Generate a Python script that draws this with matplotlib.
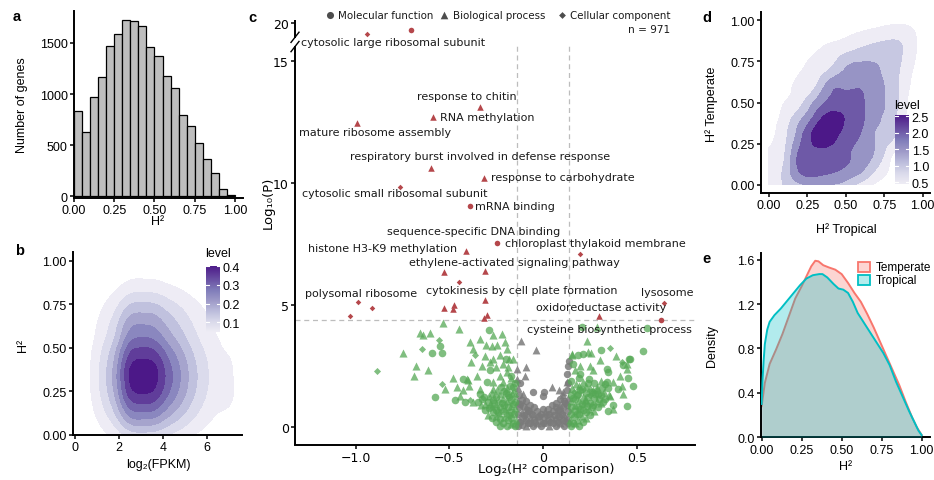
import numpy as np
import matplotlib
matplotlib.use('Agg')
import matplotlib.pyplot as plt
from matplotlib.tri import Triangulation, UniformTriRefiner
from matplotlib.colors import LinearSegmentedColormap
from matplotlib.patches import Rectangle
from matplotlib.transforms import blended_transform_factory

plt.rcParams['font.family'] = ['Liberation Sans', 'DejaVu Sans']
plt.rcParams['axes.unicode_minus'] = False

# ---------------- data ----------------
# a: number of genes per H2 bin (width 0.05, 0 -> 1)
hist_bin_width = 0.05
hist_counts = [830, 630, 970, 1170, 1470, 1590, 1725, 1720, 1670, 1460,
               1375, 1180, 1060, 800, 685, 520, 365, 225, 75, 10]

# b: 2D density, log2(FPKM) (columns) x H2 (rows)
b_x = [-0.5, 0.0, 0.5, 1.0, 1.5, 2.0, 2.5, 3.0, 3.5, 4.0, 4.5, 5.0, 5.5, 6.0, 6.5, 7.0, 7.5, 8.0]
b_y = [0.0, 0.1, 0.2, 0.3, 0.4, 0.5, 0.6, 0.7, 0.8, 0.9, 1.0]
b_density = [
    [0, 0, 0.009, 0.026, 0.048, 0.082, 0.121, 0.130, 0.127, 0.109, 0.087, 0.066, 0.047, 0.032, 0.021, 0.015, 0.005, 0],
    [0, 0, 0.018, 0.052, 0.096, 0.164, 0.242, 0.260, 0.255, 0.218, 0.174, 0.133, 0.094, 0.064, 0.043, 0.030, 0.010, 0],
    [0, 0, 0.026, 0.074, 0.137, 0.233, 0.344, 0.370, 0.363, 0.311, 0.248, 0.189, 0.133, 0.091, 0.066, 0.058, 0.025, 0],
    [0, 0, 0.030, 0.086, 0.159, 0.271, 0.400, 0.430, 0.421, 0.361, 0.288, 0.219, 0.155, 0.105, 0.075, 0.062, 0.030, 0],
    [0, 0, 0.029, 0.084, 0.155, 0.265, 0.391, 0.420, 0.412, 0.353, 0.281, 0.214, 0.151, 0.103, 0.072, 0.058, 0.025, 0],
    [0, 0, 0.025, 0.070, 0.130, 0.220, 0.326, 0.350, 0.343, 0.294, 0.235, 0.179, 0.126, 0.086, 0.058, 0.040, 0.014, 0],
    [0, 0, 0.019, 0.054, 0.100, 0.170, 0.251, 0.270, 0.265, 0.227, 0.181, 0.138, 0.097, 0.066, 0.045, 0.031, 0.011, 0],
    [0, 0, 0.014, 0.040, 0.074, 0.126, 0.186, 0.200, 0.196, 0.168, 0.134, 0.102, 0.072, 0.049, 0.033, 0.023, 0.008, 0],
    [0, 0, 0.008, 0.023, 0.043, 0.072, 0.107, 0.115, 0.113, 0.097, 0.077, 0.059, 0.041, 0.028, 0.019, 0.013, 0.005, 0],
    [0, 0, 0.003, 0.010, 0.018, 0.030, 0.045, 0.048, 0.047, 0.040, 0.032, 0.024, 0.017, 0.012, 0.008, 0.006, 0.002, 0],
    [0, 0, 0.001, 0.002, 0.004, 0.006, 0.009, 0.010, 0.010, 0.008, 0.007, 0.005, 0.004, 0.002, 0.002, 0.001, 0, 0],
]
b_levels = [0.05, 0.10, 0.15, 0.20, 0.25, 0.30, 0.35, 0.40]

# c: GO terms, (log2 H2 comparison, -log10 P, shape)  c=circle MF, t=triangle BP, d=diamond CC
red_pts = [
    (-0.941, 16.97, 'd'), (-0.706, 18.1, 'c'), (-0.336, 13.13, 't'), (-0.585, 12.72, 't'),
    (-0.994, 12.47, 't'), (-0.599, 10.62, 't'), (-0.313, 10.23, 't'), (-0.763, 9.83, 'd'),
    (-0.390, 9.08, 'c'), (-0.244, 7.56, 'c'), (-0.413, 7.21, 't'), (0.197, 7.08, 'd'),
    (-0.527, 6.34, 't'), (-0.309, 6.41, 't'), (-0.448, 5.95, 'd'), (-0.985, 5.13, 'd'),
    (-0.914, 4.88, 'd'), (-1.030, 4.54, 'd'), (-0.527, 4.90, 't'), (-0.475, 4.99, 't'),
    (-0.479, 4.86, 't'), (-0.309, 5.19, 't'), (-0.300, 4.61, 't'), (-0.315, 4.47, 't'),
    (0.646, 5.10, 'd'), (0.299, 4.55, 't'), (0.630, 4.37, 'c'),
]
green_pts = [
    (-0.532, 4.27, 't'), (-0.446, 4.03, 't'), (-0.656, 3.85, 't'), (-0.639, 3.76, 't'), (-0.603, 3.87, 't'),
    (-0.553, 3.55, 'd'), (-0.550, 3.32, 'c'), (-0.541, 3.05, 'c'), (-0.591, 3.05, 'c'), (-0.745, 3.02, 't'),
    (-0.647, 3.21, 'd'), (-0.888, 2.30, 'd'), (-0.687, 2.11, 't'), (-0.615, 2.32, 't'), (-0.678, 2.52, 't'),
    (-0.576, 1.22, 'c'), (-0.541, 1.77, 'd'), (-0.523, 1.56, 't'), (-0.482, 2.00, 't'), (-0.461, 1.63, 't'),
    (-0.470, 1.11, 'c'), (-0.425, 1.50, 't'), (-0.398, 1.91, 't'), (-0.386, 2.66, 't'), (-0.363, 2.94, 'd'),
    (-0.390, 3.48, 't'), (-0.372, 3.21, 't'), (-0.336, 3.62, 't'), (-0.286, 3.96, 'c'), (-0.304, 3.35, 't'),
    (-0.265, 3.76, 't'), (-0.247, 3.35, 't'), (-0.203, 3.48, 't'), (-0.194, 3.21, 't'), (-0.229, 2.94, 't'),
    (-0.327, 2.52, 't'), (-0.283, 2.32, 'c'), (-0.265, 2.80, 't'), (-0.354, 2.11, 't'), (-0.301, 1.84, 'c'),
    (-0.229, 2.11, 't'), (-0.185, 2.46, 't'), (-0.265, 1.56, 't'), (-0.336, 1.36, 'c'), (-0.372, 1.02, 't'),
    (-0.416, 1.02, 'c'), (-0.389, 1.12, 'd'), (-0.443, 1.29, 't'), (-0.393, 1.67, 't'), (-0.428, 1.97, 'c'),
    (-0.309, 2.93, 't'), (-0.283, 2.66, 't'), (-0.197, 2.77, 'c'), (-0.180, 2.80, 't'), (-0.160, 2.80, 't'),
    (-0.190, 2.25, 't'), (-0.220, 3.83, 't'), (-0.274, 3.32, 't'), (-0.345, 1.02, 'c'), (-0.265, 1.84, 't'),
    (-0.336, 1.56, 't'), (-0.407, 1.97, 't'), (-0.250, 2.45, 't'), (-0.215, 2.60, 't'), (-0.170, 2.10, 'c'),
    (0.153, 2.94, 't'), (0.189, 2.94, 'c'), (0.215, 2.98, 'c'), (0.242, 3.07, 't'), (0.233, 3.51, 't'),
    (0.358, 3.24, 'd'), (0.464, 2.80, 'c'), (0.532, 3.10, 'c'), (0.420, 2.66, 'd'), (0.446, 2.39, 't'),
    (0.455, 2.00, 'c'), (0.411, 2.11, 't'), (0.304, 2.73, 't'), (0.340, 2.39, 'c'), (0.375, 1.84, 't'),
    (0.340, 1.84, 'c'), (0.269, 2.32, 't'), (0.251, 2.52, 't'), (0.197, 2.18, 'c'), (0.171, 2.32, 't'),
    (0.286, 1.56, 't'), (0.402, 1.56, 'c'), (0.358, 1.29, 't'), (0.446, 0.88, 'c'), (0.375, 0.74, 't'),
    (0.322, 1.02, 'c'), (0.260, 1.43, 'c'), (0.224, 1.15, 't'), (0.553, 4.06, 'c'), (0.286, 4.10, 't'),
    (0.206, 4.10, 'c'), (0.162, 2.59, 'c'), (0.197, 2.52, 't'), (0.461, 2.77, 'c'), (0.425, 2.54, 'c'),
    (0.450, 2.57, 't'), (0.349, 2.25, 'c'), (0.420, 1.70, 't'), (0.425, 1.36, 't'), (0.372, 0.90, 'c'),
    (0.349, 0.67, 'c'), (0.157, 2.99, 't'), (0.254, 3.03, 't'), (0.390, 2.90, 't'), (0.310, 3.15, 'c'),
    (0.480, 1.70, 'c'),
    # dense part, left
    (-0.150, 0.05, 'c'), (-0.146, 0.28, 't'), (-0.152, 0.52, 'c'), (-0.148, 0.77, 't'), (-0.151, 1.02, 'c'),
    (-0.147, 1.27, 'd'), (-0.153, 1.52, 't'), (-0.149, 1.80, 'c'), (-0.171, 0.12, 't'), (-0.168, 0.36, 'c'),
    (-0.173, 0.61, 'c'), (-0.169, 0.86, 't'), (-0.172, 1.12, 'c'), (-0.166, 1.40, 't'), (-0.174, 1.70, 'c'),
    (-0.170, 2.00, 't'), (-0.191, 0.04, 'c'), (-0.188, 0.30, 'c'), (-0.193, 0.56, 't'), (-0.189, 0.81, 'c'),
    (-0.192, 1.06, 't'), (-0.187, 1.31, 'c'), (-0.194, 1.60, 't'), (-0.211, 0.16, 'c'), (-0.208, 0.41, 't'),
    (-0.213, 0.66, 'c'), (-0.209, 0.91, 'c'), (-0.212, 1.19, 't'), (-0.207, 1.49, 'c'), (-0.214, 1.86, 't'),
    (-0.231, 0.06, 'c'), (-0.228, 0.31, 'c'), (-0.233, 0.56, 't'), (-0.229, 0.81, 'c'), (-0.232, 1.06, 'd'),
    (-0.227, 1.35, 't'), (-0.251, 0.21, 'c'), (-0.248, 0.46, 't'), (-0.253, 0.71, 'c'), (-0.249, 0.96, 't'),
    (-0.252, 1.21, 'c'), (-0.247, 1.50, 't'), (-0.271, 0.36, 'c'), (-0.268, 0.61, 'c'), (-0.273, 0.86, 't'),
    (-0.269, 1.11, 'c'), (-0.272, 1.40, 't'), (-0.291, 0.51, 't'), (-0.288, 0.76, 'c'), (-0.293, 1.01, 'c'),
    (-0.289, 1.26, 't'), (-0.311, 0.71, 'c'), (-0.308, 0.96, 't'), (-0.313, 1.21, 'c'), (-0.331, 0.91, 't'),
    (-0.328, 1.16, 'c'), (-0.160, 0.18, 'c'), (-0.181, 0.48, 'c'), (-0.200, 0.72, 't'), (-0.159, 0.95, 'c'),
    (-0.221, 0.98, 'c'), (-0.180, 1.22, 'c'), (-0.240, 0.62, 'c'), (-0.160, 1.62, 'c'), (-0.261, 1.00, 'c'),
    (-0.199, 1.40, 'c'), (-0.281, 0.95, 't'), (-0.222, 1.62, 'c'),
    # dense part, right
    (0.150, 0.05, 'c'), (0.146, 0.30, 't'), (0.152, 0.55, 'c'), (0.148, 0.80, 'c'), (0.151, 1.05, 't'),
    (0.147, 1.30, 'c'), (0.153, 1.60, 't'), (0.149, 1.90, 'c'), (0.171, 0.16, 't'), (0.168, 0.40, 'c'),
    (0.173, 0.65, 'c'), (0.169, 0.90, 't'), (0.172, 1.15, 'c'), (0.166, 1.45, 'd'), (0.174, 1.75, 't'),
    (0.191, 0.05, 'c'), (0.188, 0.30, 't'), (0.193, 0.55, 'c'), (0.189, 0.80, 'c'), (0.192, 1.10, 't'),
    (0.187, 1.35, 'c'), (0.194, 1.70, 't'), (0.190, 2.00, 'c'), (0.211, 0.20, 'c'), (0.208, 0.45, 't'),
    (0.213, 0.70, 'c'), (0.209, 0.95, 'c'), (0.212, 1.25, 't'), (0.207, 1.55, 'c'), (0.214, 1.85, 't'),
    (0.231, 0.35, 't'), (0.228, 0.60, 'c'), (0.233, 0.85, 'c'), (0.229, 1.10, 't'), (0.232, 1.40, 'c'),
    (0.227, 1.70, 't'), (0.251, 0.50, 'c'), (0.248, 0.75, 't'), (0.253, 1.00, 'c'), (0.249, 1.30, 'd'),
    (0.252, 1.60, 't'), (0.247, 1.95, 'c'), (0.271, 0.65, 't'), (0.268, 0.90, 'c'), (0.273, 1.20, 'c'),
    (0.269, 1.50, 't'), (0.272, 1.80, 'c'), (0.291, 0.80, 'c'), (0.288, 1.05, 't'), (0.293, 1.35, 'c'),
    (0.289, 1.65, 't'), (0.311, 1.00, 't'), (0.308, 1.30, 'c'), (0.313, 1.60, 'c'), (0.309, 1.90, 't'),
    (0.331, 1.15, 'c'), (0.328, 1.45, 't'), (0.333, 1.75, 'c'), (0.351, 1.30, 't'), (0.348, 1.60, 'c'),
    (0.160, 0.18, 'c'), (0.181, 0.52, 'c'), (0.200, 0.75, 'c'), (0.161, 1.20, 'c'), (0.221, 1.00, 't'),
    (0.182, 1.30, 'c'), (0.240, 1.22, 'c'), (0.262, 0.80, 'c'), (0.280, 1.35, 'c'), (0.200, 1.50, 'c'),
    (0.300, 1.15, 'c'), (0.240, 1.80, 'c'),
]
gray_pts = [
    (-0.131, 0.05, 'c'), (-0.128, 0.30, 't'), (-0.133, 0.55, 'c'), (-0.129, 0.80, 'c'), (-0.132, 1.05, 't'),
    (-0.127, 1.30, 'c'), (-0.134, 1.60, 't'), (-0.111, 0.10, 'c'), (-0.108, 0.35, 'c'), (-0.113, 0.60, 't'),
    (-0.109, 0.85, 'c'), (-0.112, 1.10, 'c'), (-0.107, 1.35, 't'), (-0.091, 0.05, 't'), (-0.088, 0.30, 'c'),
    (-0.093, 0.55, 'c'), (-0.089, 0.80, 't'), (-0.092, 1.05, 'c'), (-0.071, 0.15, 'c'), (-0.068, 0.40, 't'),
    (-0.073, 0.65, 'c'), (-0.069, 0.90, 'c'), (-0.051, 0.05, 'c'), (-0.048, 0.30, 'c'), (-0.053, 0.55, 't'),
    (-0.049, 0.80, 'c'), (-0.031, 0.15, 't'), (-0.028, 0.40, 'c'), (-0.033, 0.65, 'c'), (-0.011, 0.05, 'c'),
    (-0.008, 0.30, 't'), (-0.013, 0.55, 'c'), (0.011, 0.15, 'c'), (0.008, 0.40, 'c'), (0.013, 0.65, 't'),
    (0.031, 0.05, 't'), (0.028, 0.30, 'c'), (0.033, 0.55, 'c'), (0.029, 0.75, 'c'), (0.051, 0.15, 'c'),
    (0.048, 0.40, 't'), (0.053, 0.65, 'c'), (0.049, 0.90, 'c'), (0.071, 0.05, 'c'), (0.068, 0.30, 'c'),
    (0.073, 0.55, 't'), (0.069, 0.80, 'c'), (0.072, 1.00, 'c'), (0.091, 0.15, 't'), (0.088, 0.40, 'c'),
    (0.093, 0.65, 'c'), (0.089, 0.90, 't'), (0.092, 1.15, 'c'), (0.111, 0.05, 'c'), (0.108, 0.30, 'c'),
    (0.113, 0.55, 't'), (0.109, 0.80, 'c'), (0.112, 1.05, 'c'), (0.107, 1.30, 't'), (0.131, 0.15, 'c'),
    (0.128, 0.40, 't'), (0.133, 0.65, 'c'), (0.129, 0.90, 'c'), (0.132, 1.20, 't'), (0.127, 1.50, 'c'),
    (0.134, 1.80, 'c'), (-0.120, 0.22, 'c'), (-0.100, 0.48, 'c'), (-0.080, 0.18, 'c'), (-0.060, 0.52, 'c'),
    (-0.040, 0.20, 'c'), (-0.020, 0.45, 'c'), (0.000, 0.18, 'c'), (0.020, 0.50, 'c'), (0.040, 0.22, 'c'),
    (0.060, 0.48, 'c'), (0.080, 0.20, 'c'), (0.100, 0.55, 'c'), (0.120, 0.25, 'c'), (-0.120, 0.95, 'c'),
    (0.120, 1.00, 'c'), (-0.080, 0.70, 'c'), (0.080, 0.70, 'c'), (0.000, 0.75, 'c'),
    (-0.119, 3.51, 't'), (-0.037, 3.14, 't'), (-0.137, 2.39, 't'), (-0.092, 2.46, 't'), (-0.096, 2.09, 't'),
    (0.005, 1.45, 'c'), (-0.052, 1.43, 'c'), (0.140, 2.70, 'c'), (0.135, 2.52, 'c'), (0.126, 2.18, 'c'),
    (0.126, 1.84, 't'), (0.046, 1.63, 't'), (0.087, 1.53, 't'), (0.108, 1.43, 't'), (0.000, 1.29, 'c'),
    (-0.138, 1.95, 't'), (-0.122, 1.80, 'c'),
]
go_labels = [
    ('cytosolic large ribosomal subunit', -0.799, 15.79),
    ('response to chitin', -0.407, 13.59),
    ('RNA methylation', -0.297, 12.74),
    ('mature ribosome assembly', -0.895, 12.09),
    ('respiratory burst involved in defense response', -0.336, 11.12),
    ('response to carbohydrate', 0.108, 10.25),
    ('cytosolic small ribosomal subunit', -0.790, 9.62),
    ('mRNA binding', -0.151, 9.08),
    ('sequence-specific DNA binding', -0.372, 8.05),
    ('chloroplast thylakoid membrane', 0.277, 7.53),
    ('histone H3-K9 methylation', -0.855, 7.35),
    ('ethylene-activated signaling pathway', -0.153, 6.78),
    ('polysomal ribosome', -0.972, 5.50),
    ('cytokinesis by cell plate formation', -0.111, 5.64),
    ('lysosome', 0.663, 5.54),
    ('oxidoreductase activity', 0.309, 4.93),
    ('cysteine biosynthetic process', 0.354, 4.03),
]
fc_cut = 0.14
p_cut = 4.37
n_terms = 971

# d: 2D density, H2 Tropical (columns) x H2 Temperate (rows)
d_x = [0.0, 0.1, 0.2, 0.3, 0.4, 0.5, 0.6, 0.7, 0.8, 0.9, 1.0]
d_y = [0.0, 0.1, 0.2, 0.3, 0.4, 0.5, 0.6, 0.7, 0.8, 0.9, 1.0]
d_density = [
    [0.75, 1.05, 1.40, 1.55, 1.50, 1.30, 0.80, 0.40, 0.25, 0.20, 0.20],
    [0.70, 1.10, 2.10, 2.25, 2.15, 1.95, 1.62, 1.00, 0.40, 0.22, 0.20],
    [0.55, 0.95, 2.10, 2.40, 2.40, 2.15, 1.75, 1.40, 0.60, 0.25, 0.20],
    [0.35, 0.85, 1.80, 2.65, 2.70, 2.30, 1.95, 1.45, 1.15, 0.35, 0.20],
    [0.25, 0.70, 1.40, 2.20, 2.75, 2.45, 2.10, 1.60, 1.20, 0.40, 0.20],
    [0.20, 0.50, 0.85, 1.60, 2.15, 2.30, 2.10, 1.65, 1.30, 0.50, 0.20],
    [0.20, 0.30, 0.65, 0.95, 1.80, 1.90, 1.95, 1.65, 1.30, 0.60, 0.20],
    [0.20, 0.20, 0.45, 0.70, 1.05, 1.55, 1.70, 1.55, 1.25, 0.70, 0.20],
    [0.20, 0.20, 0.30, 0.50, 0.75, 1.00, 1.20, 1.30, 1.20, 0.85, 0.20],
    [0.20, 0.20, 0.22, 0.26, 0.35, 0.48, 0.65, 0.80, 0.92, 0.80, 0.20],
    [0.20, 0.20, 0.20, 0.20, 0.20, 0.20, 0.20, 0.25, 0.32, 0.32, 0.20],
]
d_levels = [0.5, 1.0, 1.5, 2.0, 2.5]

# e: H2 density curves
temp_x = [0.0, 0.02, 0.05, 0.09, 0.13, 0.17, 0.21, 0.25, 0.29, 0.31, 0.335, 0.355, 0.385, 0.42, 0.46,
          0.50, 0.54, 0.58, 0.62, 0.66, 0.70, 0.74, 0.78, 0.82, 0.86, 0.90, 0.94, 0.97, 1.0]
temp_y = [0.28, 0.49, 0.66, 0.79, 0.93, 1.09, 1.25, 1.36, 1.48, 1.54, 1.59, 1.585, 1.55, 1.53, 1.51,
          1.47, 1.39, 1.30, 1.22, 1.11, 0.99, 0.86, 0.73, 0.60, 0.47, 0.32, 0.18, 0.09, 0.02]
trop_x = [0.0, 0.005, 0.012, 0.02, 0.035, 0.05, 0.08, 0.12, 0.16, 0.20, 0.24, 0.28, 0.32, 0.36, 0.38,
          0.41, 0.45, 0.48, 0.51, 0.54, 0.57, 0.60, 0.64, 0.68, 0.72, 0.76, 0.80, 0.84, 0.88, 0.92,
          0.96, 0.98, 1.0]
trop_y = [0.30, 0.50, 0.68, 0.84, 0.97, 1.04, 1.10, 1.16, 1.23, 1.30, 1.37, 1.43, 1.46, 1.47, 1.47,
          1.44, 1.38, 1.34, 1.33, 1.30, 1.22, 1.12, 1.03, 0.94, 0.85, 0.76, 0.65, 0.50, 0.37, 0.24,
          0.12, 0.06, 0.02]

# ---------------- drawing ----------------
W, H = 934, 481
fig = plt.figure(figsize=(W / 100, H / 100), dpi=100)
FS = 9
CFONT = 'DejaVu Sans'


def px_axes(l, t, r, b):
    return fig.add_axes([l / W, 1 - b / H, (r - l) / W, (b - t) / H])


def ftext(x, y, s, **kw):
    kw.setdefault('ha', 'center')
    kw.setdefault('va', 'center')
    kw.setdefault('fontsize', FS)
    fig.text(x / W, 1 - y / H, s, **kw)


def style(ax):
    for side in ('top', 'right'):
        ax.spines[side].set_visible(False)
    for side in ('left', 'bottom'):
        ax.spines[side].set_linewidth(1.4)
    ax.tick_params(width=1.1, length=3, labelsize=FS, pad=1.5, colors='black')


def trunc_cmap():
    return LinearSegmentedColormap.from_list('pur', plt.cm.Purples(np.linspace(0.13, 0.92, 64)))


def density_panel(ax, gx, gy, grid, levels):
    sx = gx[1] - gx[0]
    sy = gy[1] - gy[0]
    X, Y = np.meshgrid(np.array(gx) / sx, np.array(gy) / sy)
    tri = Triangulation(X.ravel(), Y.ravel())
    tri_r, z_r = UniformTriRefiner(tri).refine_field(np.array(grid, float).ravel(), subdiv=3)
    tri_s = Triangulation(tri_r.x * sx, tri_r.y * sy, tri_r.triangles)
    cmap = trunc_cmap()
    lo, hi = levels[0], levels[-1]
    cols = [cmap((lv - lo) / (hi - lo)) for lv in levels]
    ax.tricontourf(tri_s, z_r, levels=list(levels) + [1e6], colors=cols, zorder=1)


def colorbar(l, t, r, b, lo, hi, ticks, title, title_xy):
    cax = px_axes(l, t, r, b)
    cax.imshow(np.linspace(lo, hi, 256)[:, None], cmap=trunc_cmap(), aspect='auto', origin='lower',
               extent=[0, 1, lo, hi], vmin=lo, vmax=hi)
    cax.set_xlim(0, 1)
    cax.set_ylim(lo, hi)
    for s in cax.spines.values():
        s.set_visible(False)
    cax.set_xticks([])
    cax.yaxis.tick_right()
    cax.set_yticks(ticks, [f'{v:.1f}' for v in ticks])
    cax.tick_params(axis='y', length=0, labelsize=FS, pad=2)
    for tk in ticks:
        cax.plot([0, 0.2], [tk, tk], color='white', lw=0.8)
        cax.plot([0.8, 1], [tk, tk], color='white', lw=0.8)
    ftext(title_xy[0], title_xy[1], title, ha='left')


# ---- a ----
ax = px_axes(74, 12, 243, 199)
lefts = np.arange(len(hist_counts)) * hist_bin_width
ax.bar(lefts, hist_counts, width=hist_bin_width, align='edge', color='#BEBEBE',
       edgecolor='black', linewidth=0.9, zorder=2)
ax.set_xlim(0, 1.05)
ax.set_ylim(-17, 1813)
style(ax)
ax.set_xticks([0, 0.25, 0.5, 0.75, 1.0], ['0.00', '0.25', '0.50', '0.75', '1.00'])
ax.set_yticks([0, 500, 1000, 1500])
ftext(22, 105, 'Number of genes', rotation=90)
ftext(158, 222, 'H²')
ftext(13, 17, 'a', ha='left', fontweight='bold', fontsize=10.5)

# ---- b ----
ax = px_axes(73, 253, 242, 436)
density_panel(ax, b_x, b_y, b_density, b_levels)
ax.set_xlim(-0.09, 7.6)
ax.set_ylim(0, 1.05)
style(ax)
ax.set_xticks([0, 2, 4, 6])
ax.set_yticks([0, 0.25, 0.5, 0.75, 1.0], ['0.00', '0.25', '0.50', '0.75', '1.00'])
colorbar(206, 266.7, 220, 333.3, 0.047, 0.403, [0.1, 0.2, 0.3, 0.4], 'level', (205, 254))
ftext(23, 345, 'H²', rotation=90)
ftext(158, 465, 'log₂(FPKM)')
ftext(15, 251, 'b', ha='left', fontweight='bold', fontsize=10.5)


# ---- c ----
def squash(v):
    return v if v <= 16 else 16 + (v - 16) * 0.145


ax = px_axes(295, 21, 695, 446)
y_lo, y_hi = -0.74, 16.7
ax.set_xlim(-1.323, 0.811)
ax.set_ylim(y_lo, y_hi)
dash = dict(color='#BDBDBD', lw=0.9, ls=(0, (4, 3)), zorder=1)
for xv in (-fc_cut, fc_cut):
    ax.plot([xv, xv], [y_lo, 15.76], **dash)
ax.axhline(p_cut, **dash)

marker_of = {'c': 'o', 't': '^', 'd': 'D'}


def draw_points(pts, color, sizes, alpha, z):
    for key, mk in marker_of.items():
        sel = [p for p in pts if p[2] == key]
        if sel:
            ax.scatter([p[0] for p in sel], [squash(p[1]) for p in sel], s=sizes[key], marker=mk,
                       color=color, alpha=alpha, linewidths=0, zorder=z)


draw_points(gray_pts, '#7A7A7A', {'c': 28, 't': 32, 'd': 12}, 0.85, 2)
draw_points(green_pts, '#55A855', {'c': 30, 't': 34, 'd': 13}, 0.75, 3)
draw_points(red_pts, '#B5474B', {'c': 16, 't': 22, 'd': 8}, 1.0, 4)
for txt, xv, yv in go_labels:
    ax.text(xv, squash(yv), txt, ha='center', va='center', fontsize=8, family=CFONT, color='#1A1A1A', zorder=5)

ax.spines['top'].set_visible(False)
ax.spines['right'].set_visible(False)
ax.spines['left'].set_visible(False)
ax.spines['bottom'].set_linewidth(1.4)
tr = blended_transform_factory(ax.transAxes, ax.transData)
ax.plot([0, 0], [y_lo, 15.62], transform=tr, color='black', lw=1.4, clip_on=False, solid_capstyle='butt')
ax.plot([0, 0], [15.98, y_hi], transform=tr, color='black', lw=1.4, clip_on=False, solid_capstyle='butt')
ax.plot([-0.01, 0.01], [15.40, 15.82], transform=tr, color='black', lw=1.0, clip_on=False)
ax.plot([-0.01, 0.01], [15.78, 16.20], transform=tr, color='black', lw=1.0, clip_on=False)
ax.tick_params(width=1.1, length=3, labelsize=FS, pad=1.5, colors='black')
ax.set_xticks([-1.0, -0.5, 0, 0.5], ['\u22121.0', '\u22120.5', '0', '0.5'], fontfamily=CFONT)
ax.set_yticks([0, 5, 10, 15, squash(20)], ['0', '5', '10', '15', '20'], fontfamily=CFONT)

# legend at top
leg_y = 1.0117
for mx, mk, tx, lab in ((0.0875, 'o', 0.108, 'Molecular function'),
                        (0.3725, '^', 0.394, 'Biological process'),
                        (0.667, 'D', 0.6875, 'Cellular component')):
    ax.scatter([mx], [leg_y], marker=mk, s={'o': 26, '^': 30, 'D': 12}[mk], color='#4D4D4D',
               transform=ax.transAxes, clip_on=False, linewidths=0)
    ax.text(tx, leg_y, lab, transform=ax.transAxes, ha='left', va='center', fontsize=7.4,
            family=CFONT, color='#1A1A1A')
ax.text(0.9375, 0.978, f'n = {n_terms}', transform=ax.transAxes, ha='right', va='center',
        fontsize=7.6, family=CFONT, color='#1A1A1A')
ftext(268, 203, 'Log₁₀(P)', rotation=90, family=CFONT, fontsize=9.5)
ftext(546, 470, 'Log₂(H² comparison)', family=CFONT, fontsize=9.5)
ftext(248, 18, 'c', ha='left', fontweight='bold', fontsize=10.5)

# ---- d ----
ax = px_axes(761, 13, 930, 194)
density_panel(ax, d_x, d_y, d_density, d_levels)
ax.set_xlim(-0.052, 1.048)
ax.set_ylim(-0.05, 1.051)
style(ax)
ticks01 = [0, 0.25, 0.5, 0.75, 1.0]
lab01 = ['0.00', '0.25', '0.50', '0.75', '1.00']
ax.set_xticks(ticks01, lab01)
ax.set_yticks(ticks01, lab01)
colorbar(895, 115.5, 909, 185, 0.45, 2.555, [0.5, 1.0, 1.5, 2.0, 2.5], 'level', (894, 106))
ftext(712, 104, 'H² Temperate', rotation=90)
ftext(846, 230, 'H² Tropical')
ftext(702, 18, 'd', ha='left', fontweight='bold', fontsize=10.5)

# ---- e ----
ax = px_axes(761, 254, 930, 438.3)
red, cyan = '#F8766D', '#00BFC4'
ax.fill_between(temp_x, temp_y, 0, color=red, alpha=0.3, linewidth=0, zorder=1)
ax.plot(temp_x, temp_y, color=red, lw=1.4, zorder=2)
ax.fill_between(trop_x, trop_y, 0, color=cyan, alpha=0.3, linewidth=0, zorder=3)
ax.plot(trop_x, trop_y, color=cyan, lw=1.4, zorder=4)
ax.set_xlim(-0.004, 1.052)
ax.set_ylim(0, 1.66)
style(ax)
ax.set_xticks(ticks01, lab01)
ax.set_yticks([0, 0.4, 0.8, 1.2, 1.6], ['0.0', '0.4', '0.8', '1.2', '1.6'])
for (y0, y1), fc, ec, lab, ty in (((262.7, 273.3), '#FDD5D3', red, 'Temperate', 268.3),
                                  ((276.0, 286.3), '#B3ECED', cyan, 'Tropical', 281.5)):
    fig.add_artist(Rectangle((858.3 / W, 1 - y1 / H), 11.7 / W, (y1 - y0) / H, transform=fig.transFigure,
                             facecolor=fc, edgecolor=ec, lw=1.3))
    ftext(876, ty, lab, ha='left', fontsize=8.5)
ftext(712, 346, 'Density', rotation=90)
ftext(846, 467, 'H²')
ftext(702, 259, 'e', ha='left', fontweight='bold', fontsize=10.5)

fig.savefig('out.png', dpi=100)
